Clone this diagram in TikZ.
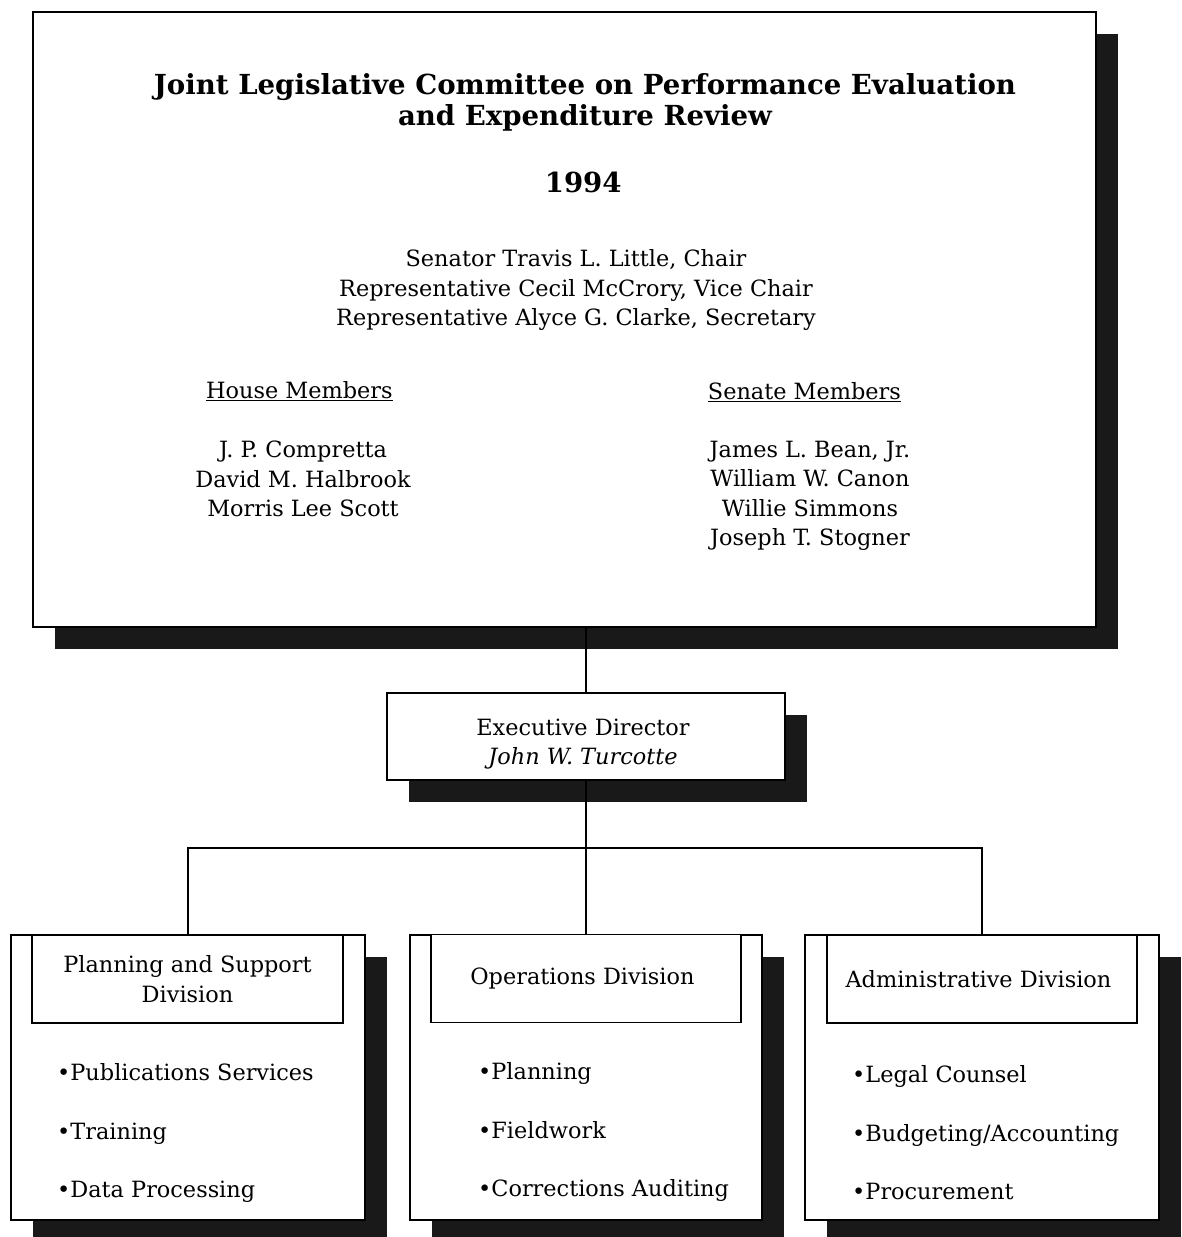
\documentclass[tikz,border=0pt]{standalone}
\usepackage{fontspec}
\setmainfont{DejaVu Serif}
\usetikzlibrary{shadows}

\tikzset{
  shadowbox/.style={draw, fill=white, line width=1.4pt, inner sep=0pt,
    general shadow={fill=black!90, shadow xshift=22pt, shadow yshift=-22pt}},
  headbox/.style={draw, fill=white, line width=1.4pt, inner sep=0pt, align=center,
    minimum height=88pt, font=\fontsize{22.4}{29.5}\selectfont},
  body/.style={font=\fontsize{22.4}{29.5}\selectfont, align=center, inner sep=0pt},
  items/.style={font=\fontsize{22.4}{58.5}\selectfont, align=left, inner sep=0pt, anchor=west},
  link/.style={line width=1.4pt},
}

\begin{document}
\begin{tikzpicture}[x=1pt, y=-1pt]
    \useasboundingbox (0,0) rectangle (1181,1237);

    % committee
    \node[shadowbox, minimum width=1063pt, minimum height=615pt] (committee) at (564.5, 319.5) { };
    \node[body, font=\fontsize{27.6}{31}\selectfont\bfseries] (title) at (585, 102)
        { Joint Legislative Committee on Performance Evaluation\\and Expenditure Review };
    \node[body, font=\fontsize{27.6}{31}\selectfont\bfseries] (year) at (588, 182) { 1994 };
    \node[body] (officers) at (576, 290)
        { Senator Travis L. Little, Chair\\Representative Cecil McCrory, Vice Chair\\Representative Alyce G. Clarke, Secretary };
    \node[body] (househead) at (303, 391) { \underline{House Members} };
    \node[body] (senatehead) at (808, 392) { \underline{Senate Members} };
    \node[body] (house) at (303, 479) { J. P. Compretta\\David M. Halbrook\\Morris Lee Scott };
    \node[body] (senate) at (810, 496) { James L. Bean, Jr.\\William W. Canon\\Willie Simmons\\Joseph T. Stogner };

    % director
    \node[shadowbox, minimum width=398pt, minimum height=87pt] (exec) at (586, 736.5) { };
    \node[body] (execname) at (583, 744) { Executive Director\\\textit{John W. Turcotte} };

    % divisions
    \node[shadowbox, minimum width=354pt, minimum height=285pt] (plan) at (188, 1077.5) { };
    \node[shadowbox, minimum width=352pt, minimum height=285pt] (ops) at (586, 1077.5) { };
    \node[shadowbox, minimum width=354pt, minimum height=285pt] (admin) at (982, 1077.5) { };

    \node[headbox, minimum width=311pt] (planhead) at (187.5, 979) { Planning and Support\\Division };
    \node[headbox, minimum width=310pt] (opshead) at (586, 978.5) { Operations Division };
    \node[headbox, minimum width=310pt] (adminhead) at (982, 979) { Administrative Division };

    \node[items] (planitems) at (57, 1133)
        { \textbullet Publications Services\\\textbullet Training\\\textbullet Data Processing };
    \node[items] (opsitems) at (478, 1132)
        { \textbullet Planning\\\textbullet Fieldwork\\\textbullet Corrections Auditing };
    \node[items] (adminitems) at (852, 1133)
        { \textbullet Legal Counsel\\\textbullet Budgeting/Accounting\\\textbullet Procurement };

    % connectors
    \coordinate (bus) at (586, 848);
    \draw[link] (exec.north) -- (exec.north |- committee.south);
    \draw[link] (exec.south) -- (bus);
    \draw[link] (bus) -| (plan.north);
    \draw[link] (bus) -- (ops.north);
    \draw[link] (bus) -| (admin.north);
\end{tikzpicture}
\end{document}
